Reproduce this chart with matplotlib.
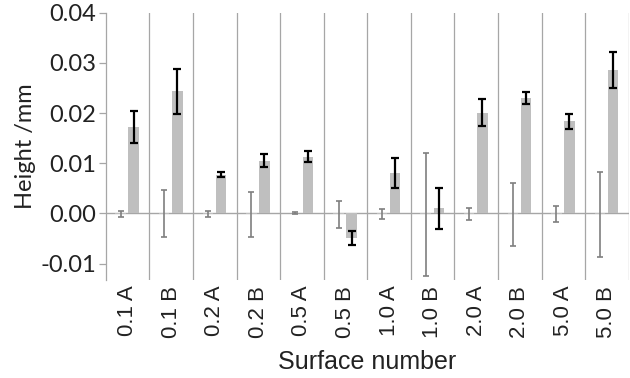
import numpy as np
import matplotlib
matplotlib.use('Agg')
import matplotlib.pyplot as plt

# data
surfaces = ['0.1 A', '0.1 B', '0.2 A', '0.2 B', '0.5 A', '0.5 B',
            '1.0 A', '1.0 B', '2.0 A', '2.0 B', '5.0 A', '5.0 B']
ref_val = [-0.0002, -0.0001, -0.0002, -0.0002, 0.0, -0.0002,
           -0.0002, -0.0002, -0.0002, -0.0002, -0.0002, -0.0002]
ref_err = [0.0006, 0.0047, 0.0006, 0.0045, 0.0002, 0.0027,
           0.0010, 0.0123, 0.0012, 0.0062, 0.0016, 0.0084]
height_val = [0.0172, 0.0244, 0.0077, 0.0105, 0.0113, -0.0049,
              0.0081, 0.0010, 0.0201, 0.0230, 0.0184, 0.0286]
height_err = [0.0032, 0.0045, 0.0005, 0.0013, 0.0011, 0.0014,
              0.0030, 0.0041, 0.0027, 0.0012, 0.0015, 0.0036]

n = len(surfaces)
idx = np.arange(n)
barw = 0.24
grey = '#BFBFBF'
linec = '#A6A6A6'

fig = plt.figure(figsize=(6.3, 3.78), dpi=100)
ax = fig.add_axes([0.168, 0.259, 0.830, 0.707])

ax.bar(idx + 0.34, ref_val, width=barw, color=grey, zorder=2)
ax.bar(idx + 0.64, height_val, width=barw, color=grey, zorder=2)
ax.errorbar(idx + 0.34, ref_val, yerr=ref_err, fmt='none', ecolor='#7F7F7F',
            elinewidth=1.2, capsize=2.5, capthick=1.2, zorder=3)
ax.errorbar(idx + 0.64, height_val, yerr=height_err, fmt='none', ecolor='black',
            elinewidth=1.6, capsize=2.8, capthick=1.6, zorder=3)

# category separators and zero line
for s in range(1, n + 1):
    ax.axvline(s, color=linec, lw=0.9, zorder=1)
ax.axhline(0, color=linec, lw=1.0, zorder=1)

ax.set_xlim(0, n)
ax.set_ylim(-0.0133, 0.04)
ax.set_yticks([-0.01, 0.0, 0.01, 0.02, 0.03, 0.04])
ax.set_yticklabels(['-0.01', '0.00', '0.01', '0.02', '0.03', '0.04'],
                   family='Lato', fontsize=17, color='#222222')
ax.set_xticks(idx + 0.5)
ax.set_xticklabels(surfaces, rotation=90, family='Liberation Sans',
                   fontsize=16, color='#222222')
ax.tick_params(axis='x', length=0, pad=4)
ax.tick_params(axis='y', length=5, width=0.9, color=linec, pad=2)

for sp in ['top', 'right', 'bottom']:
    ax.spines[sp].set_visible(False)
ax.spines['left'].set_color(linec)
ax.spines['left'].set_linewidth(0.9)

ax.set_ylabel('Height /mm', family='Lato', fontsize=17, color='#222222', labelpad=3)
ax.set_xlabel('Surface number', family='Liberation Sans', fontsize=18,
              color='#222222', labelpad=9)

plt.savefig('out.png', dpi=100)
